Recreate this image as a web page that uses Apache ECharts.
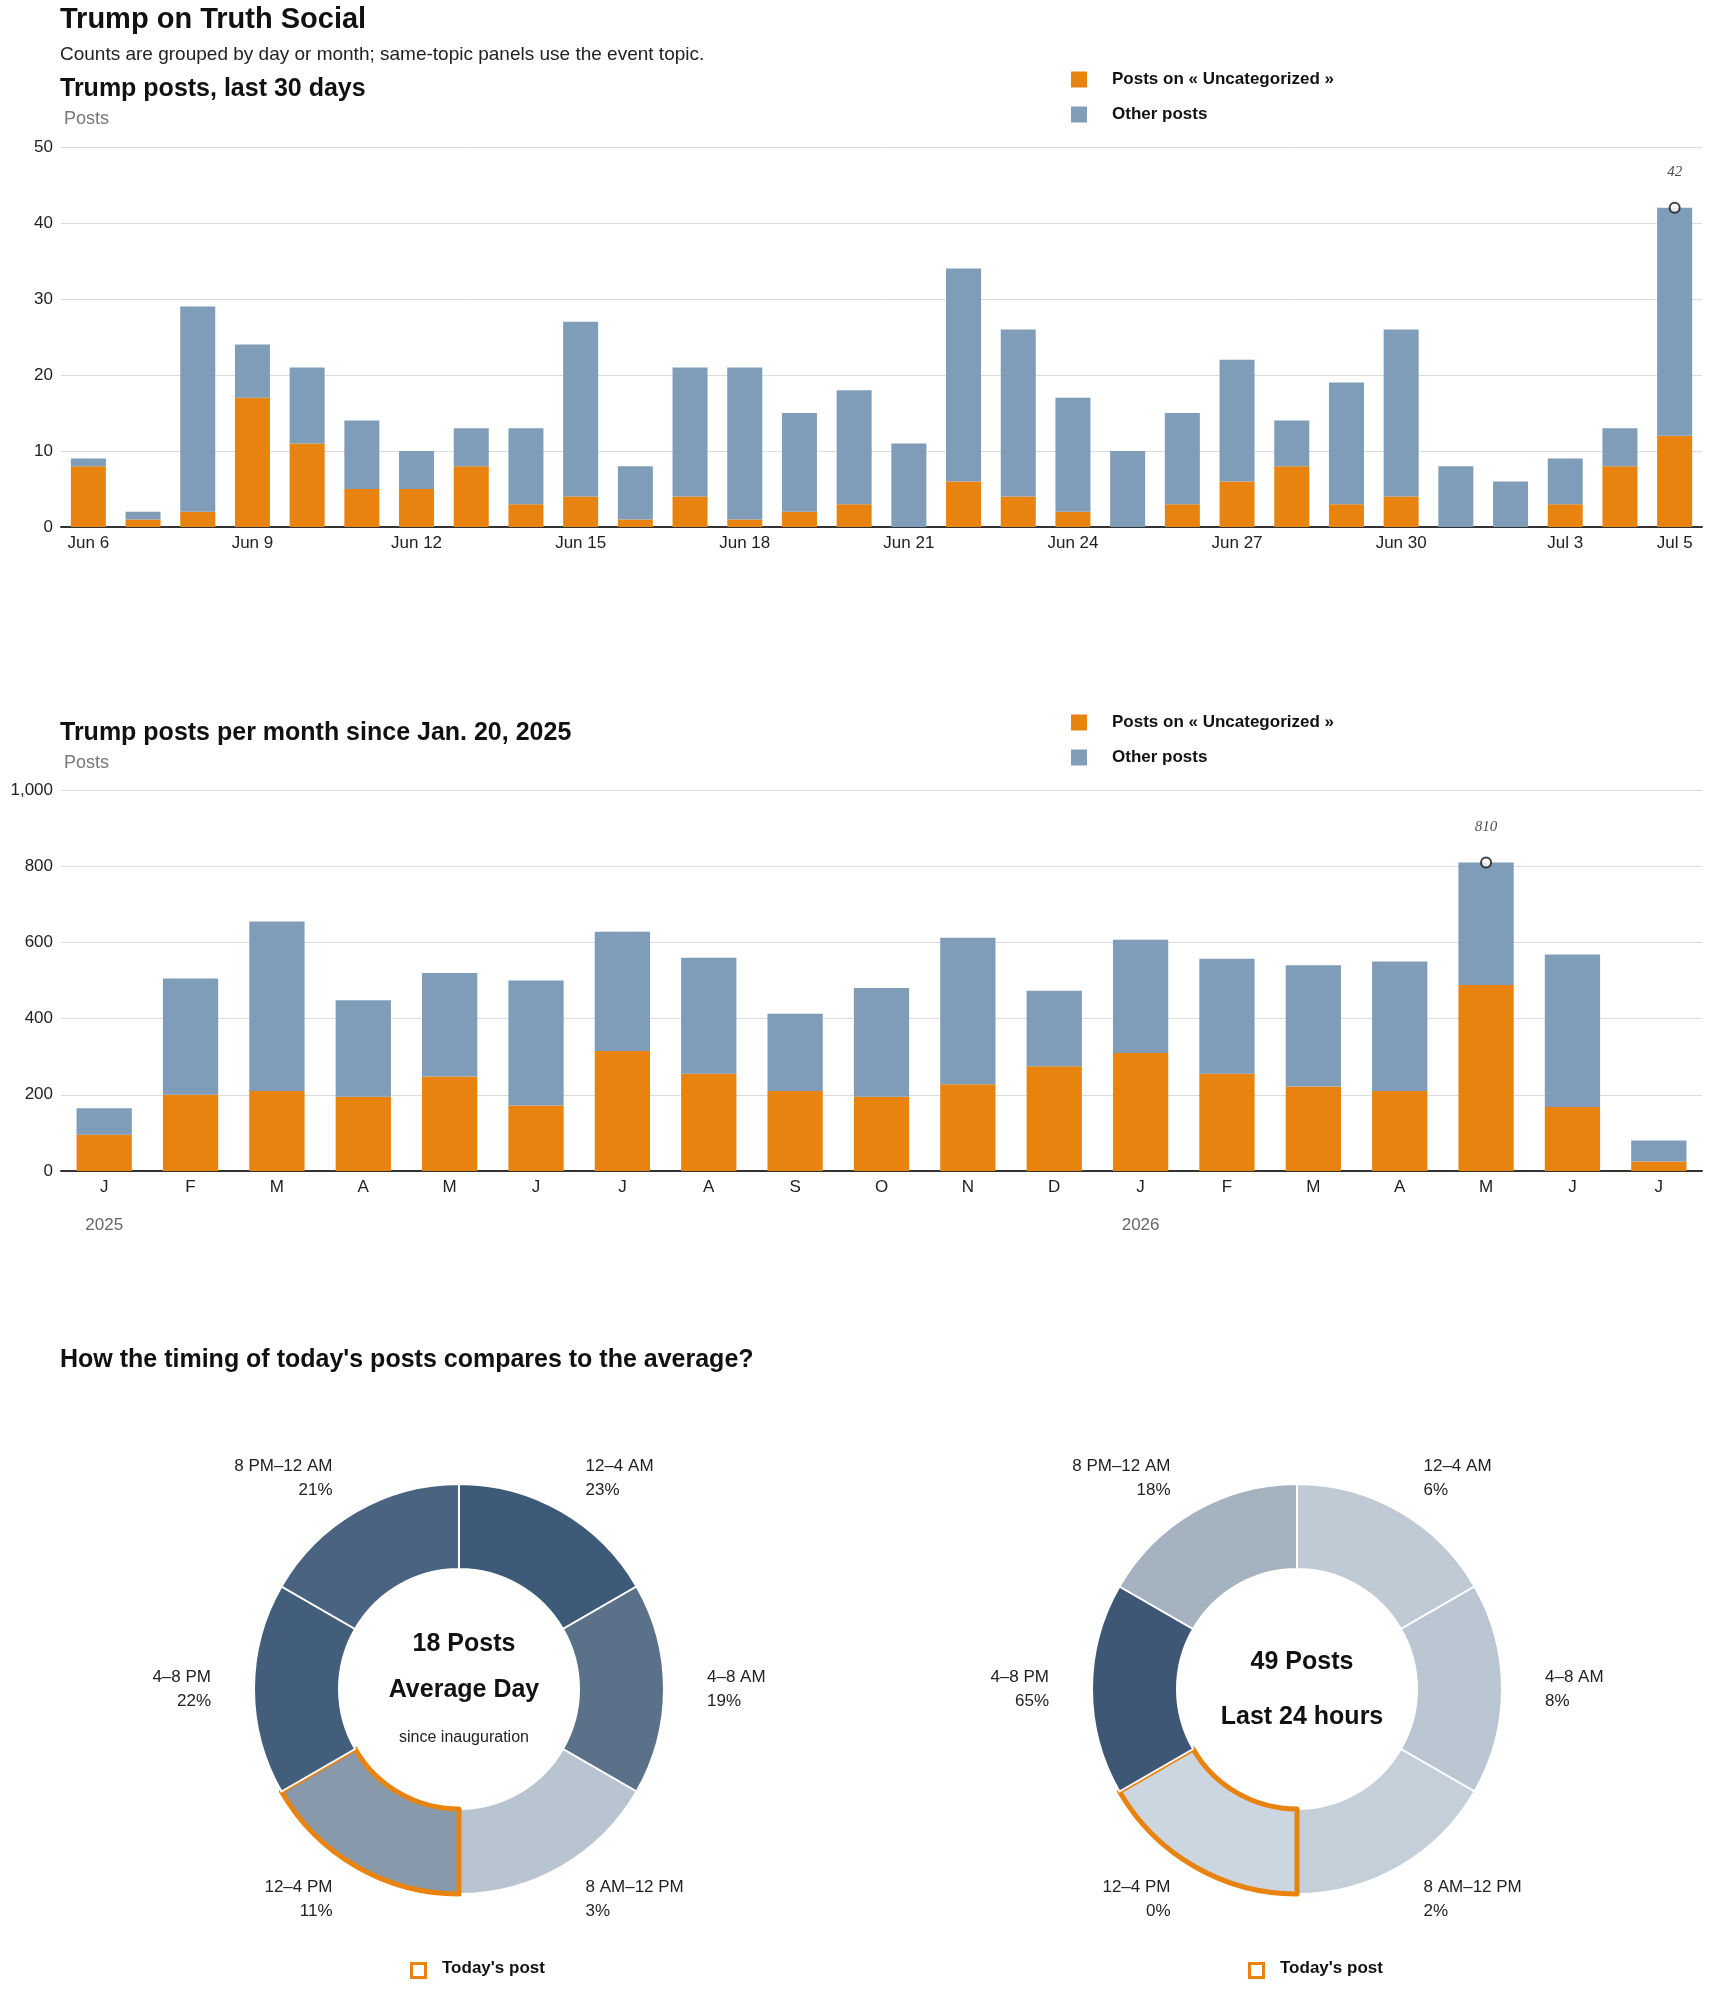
<!DOCTYPE html>
<html>
<head>
<meta charset="utf-8">
<script src="https://cdn.jsdelivr.net/npm/echarts@6/dist/echarts.min.js"></script>
<style>body{margin:0;background:#fff}#main{width:1710px;height:1993px}</style>
</head>
<body>
<div id="main"></div>
<script>
var days = ['Jun 6','Jun 7','Jun 8','Jun 9','Jun 10','Jun 11','Jun 12','Jun 13','Jun 14','Jun 15','Jun 16','Jun 17','Jun 18','Jun 19','Jun 20','Jun 21','Jun 22','Jun 23','Jun 24','Jun 25','Jun 26','Jun 27','Jun 28','Jun 29','Jun 30','Jul 1','Jul 2','Jul 3','Jul 4','Jul 5'];
var dayTotal = [9,2,29,24,21,14,10,13,13,27,8,21,21,15,18,11,34,26,17,10,15,22,14,19,26,8,6,9,13,42];
var dayTopic = [8,1,2,17,11,5,5,8,3,4,1,4,1,2,3,0,6,4,2,0,3,6,8,3,4,0,0,3,8,12];

var months = ['J','F','M','A','M','J','J','A','S','O','N','D','J','F','M','A','M','J','J'];
var years = ['2025','','','','','','','','','','','','2026','','','','','',''];
var monthTotal = [165,505,655,448,520,500,628,560,413,480,612,473,607,557,540,550,810,568,80];
var monthTopic = [95,200,210,195,248,172,315,255,210,195,228,275,310,255,222,210,488,168,25];

var slots = ['12–4 AM','4–8 AM','8 AM–12 PM','12–4 PM','4–8 PM','8 PM–12 AM'];
var avgShare = [23,19,3,11,22,21];
var todayShare = [6,8,2,0,65,18];
var avgColors = ['#3d5a78','#5a7189','#b8c5d1','#8799ab','#435e7a','#4a6380'];
var todayColors = ['#bfcad5','#bac6d1','#c4cfd9','#ccd6e0','#3d5775','#a5b3c1'];
var todayIndex = 3;

var ORANGE = '#e8830f', BLUE = '#7f9db9';
var FONT = 'Liberation Sans';

function diff(t, o) { return t.map(function (v, i) { return v - o[i]; }); }
function peak(t) {
  var m = Math.max.apply(null, t);
  return t.map(function (v) { return v === m ? v : null; });
}
function pieData(shares, colors) {
  return slots.map(function (s, i) {
    var hl = i === todayIndex;
    return {
      value: 1, name: s,
      label: { formatter: s + '\n' + shares[i] + '%' },
      itemStyle: { color: colors[i], borderColor: hl ? ORANGE : '#fff', borderWidth: hl ? 5 : 2 },
      z: hl ? 3 : 2
    };
  });
}

var chart = echarts.init(document.getElementById('main'));
var axisLbl = { color: '#222', fontSize: 17, fontFamily: FONT };
var yAx = function (gi, max, interval) {
  return {
    gridIndex: gi, min: 0, max: max, interval: interval,
    axisLabel: axisLbl, axisLine: { show: false }, axisTick: { show: false },
    splitLine: { lineStyle: { color: '#dcdcdc' } }
  };
};
var legend = function (top) {
  return {
    left: 1066, top: top, orient: 'vertical', itemGap: 18, itemWidth: 16, itemHeight: 16,
    icon: 'rect', textStyle: { fontFamily: FONT, fontWeight: 'bold', fontSize: 17, color: '#111', padding: [0, 0, 0, 20] },
    data: ['Posts on « Uncategorized »', 'Other posts']
  };
};

chart.setOption({
  animation: false,
  textStyle: { fontFamily: FONT },
  title: [
    { text: 'Trump on Truth Social', left: 55, top: 0, textStyle: { fontSize: 29, fontWeight: 900, color: '#111' } },
    { text: 'Counts are grouped by day or month; same-topic panels use the event topic.', left: 55, top: 40, textStyle: { fontSize: 19, fontWeight: 'normal', color: '#222' } },
    { text: 'Trump posts, last 30 days', left: 55, top: 72, textStyle: { fontSize: 25, fontWeight: 900, color: '#111' } },
    { text: 'Posts', left: 59, top: 105, textStyle: { fontSize: 18, fontWeight: 'normal', color: '#777' } },
    { text: 'Trump posts per month since Jan. 20, 2025', left: 55, top: 716, textStyle: { fontSize: 25, fontWeight: 900, color: '#111' } },
    { text: 'Posts', left: 59, top: 749, textStyle: { fontSize: 18, fontWeight: 'normal', color: '#777' } },
    { text: "How the timing of today's posts compares to the average?", left: 55, top: 1343, textStyle: { fontSize: 25, fontWeight: 900, color: '#111' } },
    { text: '18 Posts', left: 459, top: 1627, textAlign: 'center', textStyle: { fontSize: 25, fontWeight: 900, color: '#111' } },
    { text: 'Average Day', left: 459, top: 1673, textAlign: 'center', textStyle: { fontSize: 25, fontWeight: 900, color: '#111' } },
    { text: 'since inauguration', left: 459, top: 1725, textAlign: 'center', textStyle: { fontSize: 16, fontWeight: 'normal', color: '#222' } },
    { text: '49 Posts', left: 1297, top: 1645, textAlign: 'center', textStyle: { fontSize: 25, fontWeight: 900, color: '#111' } },
    { text: 'Last 24 hours', left: 1297, top: 1700, textAlign: 'center', textStyle: { fontSize: 25, fontWeight: 900, color: '#111' } }
  ],
  legend: [legend(66), legend(709)],
  grid: [
    { left: 61, right: 8, top: 147, height: 380 },
    { left: 61, right: 8, top: 790, height: 381 }
  ],
  xAxis: [
    { type: 'category', gridIndex: 0, data: days,
      axisLine: { lineStyle: { color: '#333', width: 2 } }, axisTick: { show: false },
      axisLabel: Object.assign({}, axisLbl, { interval: function (i) { return i % 3 === 0 || i === days.length - 1; }, margin: 8 }) },
    { type: 'category', gridIndex: 1, data: months,
      axisLine: { lineStyle: { color: '#333', width: 2 } }, axisTick: { show: false },
      axisLabel: Object.assign({}, axisLbl, { margin: 8 }) },
    { type: 'category', gridIndex: 1, data: years, position: 'bottom', offset: 38,
      axisLine: { show: false }, axisTick: { show: false },
      axisLabel: { color: '#666', fontSize: 17, fontFamily: FONT, interval: 0 } }
  ],
  yAxis: [yAx(0, 50, 10), yAx(1, 1000, 200)],
  series: [
    { name: 'Posts on « Uncategorized »', type: 'bar', stack: 'a', xAxisIndex: 0, yAxisIndex: 0, barWidth: '64%', itemStyle: { color: ORANGE }, data: dayTopic },
    { name: 'Other posts', type: 'bar', stack: 'a', xAxisIndex: 0, yAxisIndex: 0, itemStyle: { color: BLUE }, data: diff(dayTotal, dayTopic) },
    { type: 'scatter', xAxisIndex: 0, yAxisIndex: 0, symbol: 'emptyCircle', symbolSize: 10, z: 5,
      itemStyle: { color: '#111', borderWidth: 2 },
      label: { show: true, position: 'top', distance: 22, fontStyle: 'italic', fontSize: 15, color: '#222', fontFamily: 'Liberation Serif' },
      data: peak(dayTotal) },
    { name: 'Posts on « Uncategorized »', type: 'bar', stack: 'b', xAxisIndex: 1, yAxisIndex: 1, barWidth: '64%', itemStyle: { color: ORANGE }, data: monthTopic },
    { name: 'Other posts', type: 'bar', stack: 'b', xAxisIndex: 1, yAxisIndex: 1, itemStyle: { color: BLUE }, data: diff(monthTotal, monthTopic) },
    { type: 'scatter', xAxisIndex: 1, yAxisIndex: 1, symbol: 'emptyCircle', symbolSize: 10, z: 5,
      itemStyle: { color: '#111', borderWidth: 2 },
      label: { show: true, position: 'top', distance: 22, fontStyle: 'italic', fontSize: 15, color: '#222', fontFamily: 'Liberation Serif' },
      data: peak(monthTotal) },
    { type: 'pie', center: [459, 1689], radius: [120, 205], startAngle: 90, clockwise: true, silent: true,
      label: { position: 'outside', fontSize: 17, lineHeight: 24, color: '#222', fontFamily: FONT },
      labelLine: { show: false, length: 38, length2: 0 },
      data: pieData(avgShare, avgColors) },
    { type: 'pie', center: [1297, 1689], radius: [120, 205], startAngle: 90, clockwise: true, silent: true,
      label: { position: 'outside', fontSize: 17, lineHeight: 24, color: '#222', fontFamily: FONT },
      labelLine: { show: false, length: 38, length2: 0 },
      data: pieData(todayShare, todayColors) }
  ],
  graphic: [
    { type: 'rect', left: 410, top: 1962, shape: { width: 14, height: 14 }, style: { fill: '#fff', stroke: ORANGE, lineWidth: 3 } },
    { type: 'text', left: 442, top: 1960, style: { text: "Today's post", font: 'bold 17px "Liberation Sans"', fill: '#111' } },
    { type: 'rect', left: 1248, top: 1962, shape: { width: 14, height: 14 }, style: { fill: '#fff', stroke: ORANGE, lineWidth: 3 } },
    { type: 'text', left: 1280, top: 1960, style: { text: "Today's post", font: 'bold 17px "Liberation Sans"', fill: '#111' } }
  ]
});
</script>
</body>
</html>
